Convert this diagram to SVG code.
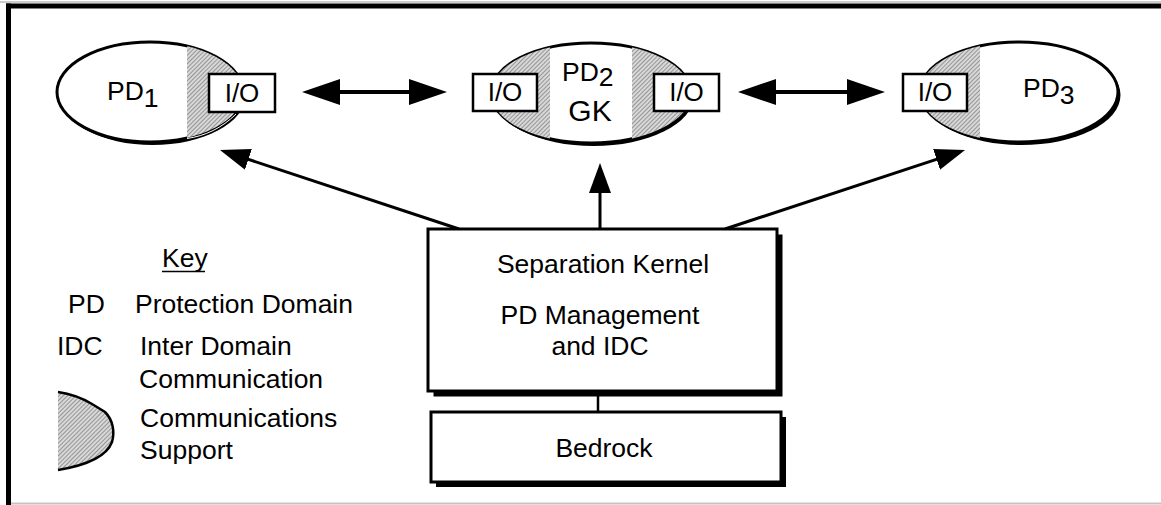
<svg xmlns="http://www.w3.org/2000/svg" width="1161" height="505" viewBox="0 0 1161 505">
  <style>
    text { font-family: "Liberation Sans", Arial, sans-serif; fill: #000; }
    .lbl { font-size: 26.5px; }
    .io { font-size: 26px; text-anchor: middle; }
    .mid { text-anchor: middle; }
    .outline { fill: #fff; stroke: #000; stroke-width: 3; }
    .shadow { fill: #000; stroke: none; }
    .box { fill: #fff; stroke: #000; stroke-width: 2.5; }
    .hatched { fill: url(#hatch); stroke: none; }
    .edge { fill: none; stroke: #000; stroke-width: 3; }
    .wide { fill: none; stroke: #000; stroke-width: 4; }
  </style>
  <defs>
    <pattern id="hatch" width="3" height="3" patternUnits="userSpaceOnUse" patternTransform="rotate(45)">
      <rect width="3" height="3" fill="#d8d8d8"/>
      <line x1="0.5" y1="0" x2="0.5" y2="3" stroke="#959595" stroke-width="1"/>
    </pattern>
    <marker id="headWide" viewBox="0 0 38 26" markerWidth="38" markerHeight="26" refX="18" refY="13" markerUnits="userSpaceOnUse" orient="auto-start-reverse">
      <path d="M0,0 L38,13 L0,26 Z" fill="#000"/>
    </marker>
    <marker id="head" viewBox="0 0 30 22" markerWidth="30" markerHeight="22" refX="15" refY="11" markerUnits="userSpaceOnUse" orient="auto">
      <path d="M0,0 L30,11 L0,22 Z" fill="#000"/>
    </marker>
    <clipPath id="clipPD1"><ellipse cx="150" cy="92" rx="93" ry="50"/></clipPath>
    <clipPath id="clipPD2"><ellipse cx="591" cy="93" rx="100" ry="50"/></clipPath>
    <clipPath id="clipPD3"><ellipse cx="1019" cy="92" rx="99" ry="50"/></clipPath>
  </defs>

  <!-- page frame -->
  <g id="frame">
    <line x1="0" y1="2" x2="1161" y2="2" stroke="#bdbdbd" stroke-width="1.5"/>
    <rect x="6" y="3.5" width="1155" height="5" fill="#000"/>
    <rect x="6" y="3.5" width="5" height="501.5" fill="#000"/>
    <line x1="11" y1="503.5" x2="1161" y2="503.5" stroke="#c4c4c4" stroke-width="2"/>
  </g>

  <!-- connectors -->
  <g id="connectors">
    <line class="wide" x1="322" y1="92" x2="427" y2="92" marker-start="url(#headWide)" marker-end="url(#headWide)"/>
    <line class="wide" x1="758" y1="92" x2="865" y2="92" marker-start="url(#headWide)" marker-end="url(#headWide)"/>
    <line class="edge" x1="459" y1="229" x2="234.2" y2="154.7" marker-end="url(#head)"/>
    <line class="edge" x1="600" y1="229" x2="600" y2="178" marker-end="url(#head)"/>
    <line class="edge" x1="725" y1="229" x2="950.8" y2="154.7" marker-end="url(#head)"/>
    <line x1="598" y1="391" x2="598" y2="412" stroke="#000" stroke-width="2.5"/>
  </g>

  <!-- protection domain 1 -->
  <g id="pd1">
    <ellipse class="shadow" cx="152.5" cy="95" rx="93" ry="50"/>
    <ellipse class="outline" cx="150" cy="92" rx="93" ry="50"/>
    <rect class="hatched" x="187" y="40" width="60" height="104" clip-path="url(#clipPD1)"/>
    <path d="M187,138.5 C205,136 222,128 236,114" fill="none" stroke="#fff" stroke-width="1"/>
    <rect class="box" x="209" y="74" width="66" height="38"/>
    <text class="io" x="242" y="102">I/O</text>
    <text class="lbl" x="107" y="100">PD<tspan dy="7">1</tspan></text>
  </g>

  <!-- protection domain 2 (gatekeeper) -->
  <g id="pd2">
    <ellipse class="shadow" cx="593.5" cy="96" rx="100" ry="50"/>
    <ellipse class="outline" cx="591" cy="93" rx="100" ry="50"/>
    <rect class="hatched" x="488" y="40" width="62" height="106" clip-path="url(#clipPD2)"/>
    <rect class="hatched" x="632" y="40" width="62" height="106" clip-path="url(#clipPD2)"/>
    <rect class="box" x="473" y="74" width="64" height="37"/>
    <text class="io" x="505" y="101">I/O</text>
    <rect class="box" x="654" y="74" width="65" height="37"/>
    <text class="io" x="686.5" y="101">I/O</text>
    <text class="lbl" x="562" y="81">PD<tspan dy="5">2</tspan></text>
    <text class="mid" x="590" y="121" font-size="30">GK</text>
  </g>

  <!-- protection domain 3 -->
  <g id="pd3">
    <ellipse class="shadow" cx="1021.5" cy="95" rx="99" ry="50"/>
    <ellipse class="outline" cx="1019" cy="92" rx="99" ry="50"/>
    <rect class="hatched" x="918" y="40" width="62" height="106" clip-path="url(#clipPD3)"/>
    <rect class="box" x="903" y="74" width="64" height="37"/>
    <text class="io" x="935" y="101">I/O</text>
    <text class="lbl" x="1023" y="97">PD<tspan dy="7">3</tspan></text>
  </g>

  <!-- separation kernel -->
  <g id="kernel">
    <rect class="shadow" x="433.5" y="234.5" width="349" height="162"/>
    <rect class="outline" x="428" y="229" width="349" height="162"/>
    <text class="lbl mid" x="603" y="273">Separation Kernel</text>
    <text class="lbl mid" x="600" y="324">PD Management</text>
    <text class="lbl mid" x="600" y="355">and IDC</text>
  </g>

  <!-- bedrock -->
  <g id="bedrock">
    <rect class="shadow" x="436" y="417" width="350" height="70"/>
    <rect class="outline" x="431" y="412" width="350" height="70"/>
    <text class="lbl mid" x="604" y="457">Bedrock</text>
  </g>

  <!-- legend -->
  <g id="key">
    <text class="lbl" x="162" y="267">Key</text>
    <line x1="162" y1="271.5" x2="205" y2="271.5" stroke="#000" stroke-width="1.5"/>
    <text class="lbl" x="68" y="313">PD</text>
    <text class="lbl" x="135" y="313">Protection Domain</text>
    <text class="lbl" x="57" y="355">IDC</text>
    <text class="lbl" x="140" y="355">Inter Domain</text>
    <text class="lbl" x="139" y="388">Communication</text>
    <path class="hatched" d="M58,392 C72,394 82,398 92,404 L105,412 C113,420 115,432 112,442 C106,458 82,466 58,470 Z"/>
    <path d="M58,392 C72,394 82,398 92,404 L105,412 C113,420 115,432 112,442 C106,458 82,466 58,470" fill="none" stroke="#000" stroke-width="2.5"/>
    <text class="lbl" x="140" y="427">Communications</text>
    <text class="lbl" x="140" y="459">Support</text>
  </g>
</svg>
